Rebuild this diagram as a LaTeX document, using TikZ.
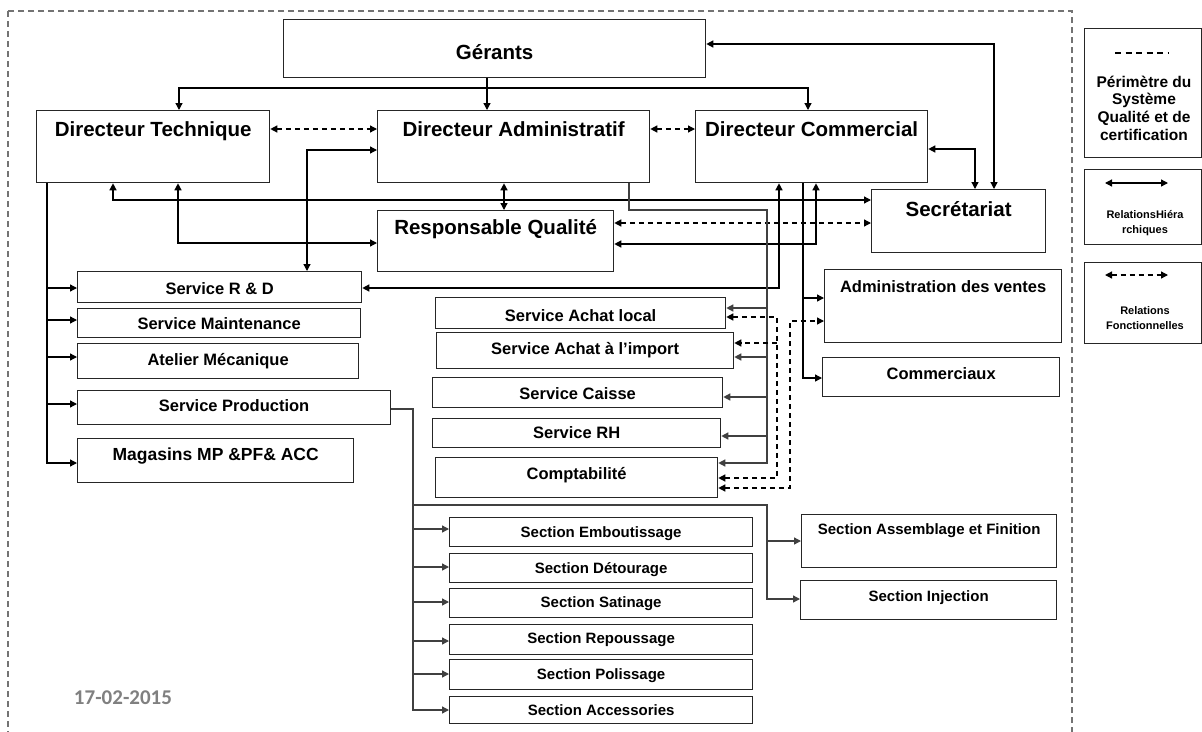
\documentclass[tikz,border=0pt]{standalone}
\usepackage{fontspec}
\setmainfont{Liberation Sans}
\newfontfamily\datefont{Carlito}
\usetikzlibrary{arrows.meta}
\begin{document}
\begin{tikzpicture}[x=1pt,y=-1pt,
  box/.style={draw=black!85, line width=1.3pt, inner sep=0pt, anchor=north west},
  hd/.style={font=\fontsize{20.5}{24}\selectfont\bfseries},
  sv/.style={font=\fontsize{16.5}{19}\selectfont\bfseries},
  sc/.style={font=\fontsize{15}{18}\selectfont\bfseries},
  ln/.style={line width=1.3pt, draw=black},
  gl/.style={line width=1.4pt, draw=black!75},
  tip/.style={},
  arr/.style={ln, -{Triangle[length=7pt,width=7pt]}},
  garr/.style={gl, -{Triangle[length=7pt,width=7pt]}},
  barr/.style={ln, {Triangle[length=7pt,width=7pt]}-{Triangle[length=7pt,width=7pt]}},
  darr/.style={barr, dash pattern=on 5pt off 4pt},
  dsarr/.style={arr, dash pattern=on 5pt off 4pt},
  frame/.style={draw=black!55, line width=1.3pt, dash pattern=on 6pt off 4pt},
  lgt/.style={align=center, font=\fontsize{15.5}{17.7}\selectfont\bfseries},
  lgs/.style={align=center, font=\fontsize{11}{15}\selectfont\bfseries}
]
\useasboundingbox (0,0) rectangle (1202,731);
\fill[white] (0,0) rectangle (1202,731);
\draw[frame] (8,11) rectangle (1072,745);

% main boxes
\node[box, hd, minimum width=422pt, text height=40.2pt, text depth=17.8pt] (ger) at (283,19) {Gérants};
\node[box, hd, minimum width=233pt, text height=26.2pt, text depth=45.8pt] (dt) at (36,110) {Directeur Technique};
\node[box, hd, minimum width=272pt, text height=26.2pt, text depth=45.8pt] (da) at (377,110) {Directeur Administratif};
\node[box, hd, minimum width=232pt, text height=26.2pt, text depth=45.8pt] (dc) at (695,110) {Directeur Commercial};
\node[box, hd, minimum width=236pt, text height=24.2pt, text depth=36.8pt] (rq) at (377,210) {Responsable Qualité};
\node[box, hd, minimum width=174pt, text height=27.2pt, text depth=35.8pt] (sec) at (871,189) {Secrétariat};

% technical services
\node[box, sv, minimum width=284pt, text height=22.9pt, text depth=8.1pt] (rd) at (77,271) {Service R \& D};
\node[box, sv, minimum width=283pt, text height=20.9pt, text depth=8.1pt] (mt) at (77,308) {Service Maintenance};
\node[box, sv, minimum width=281pt, text height=21.9pt, text depth=13.1pt] (at) at (77,343) {Atelier Mécanique};
\node[box, sv, minimum width=313pt, text height=20.9pt, text depth=13.1pt] (pr) at (77,390) {Service Production};
\node[box, font=\fontsize{17.5}{20}\selectfont\bfseries, minimum width=276pt, text height=22.3pt, text depth=21.7pt] (mg) at (77,438) {Magasins MP \&PF\& ACC};

% administrative services
\node[box, sv, minimum width=290pt, text height=23.9pt, text depth=7.1pt] (al) at (435,297) {Service Achat local};
\node[box, sv, minimum width=297pt, text height=21.9pt, text depth=14.1pt] (ai) at (436,332) {Service Achat à l’import};
\node[box, sv, minimum width=290pt, text height=21.9pt, text depth=8.1pt] (ca) at (432,377) {Service Caisse};
\node[box, sv, minimum width=288pt, text height=19.9pt, text depth=9.1pt] (rh) at (432,418) {Service RH};
\node[box, sv, minimum width=282pt, text height=21.9pt, text depth=18.1pt] (cp) at (435,457) {Comptabilité};

% commercial services
\node[box, sv, minimum width=237pt, text height=22.9pt, text depth=50.1pt] (adv) at (824,269) {Administration des ventes};
\node[box, sv, minimum width=237pt, text height=21.9pt, text depth=17.1pt] (com) at (822,357) {Commerciaux};

% sections
\node[box, sc, minimum width=303pt, text height=19.4pt, text depth=9.6pt] (s1) at (449,517) {Section Emboutissage};
\node[box, sc, minimum width=303pt, text height=19.4pt, text depth=9.6pt] (s2) at (449,553) {Section Détourage};
\node[box, sc, minimum width=303pt, text height=18.4pt, text depth=10.6pt] (s3) at (449,588) {Section Satinage};
\node[box, sc, minimum width=303pt, text height=18.4pt, text depth=11.6pt] (s4) at (449,624) {Section Repoussage};
\node[box, sc, minimum width=303pt, text height=19.4pt, text depth=10.6pt] (s5) at (449,659) {Section Polissage};
\node[box, sc, minimum width=303pt, text height=18.4pt, text depth=8.6pt] (s6) at (449,696) {Section Accessories};
\node[box, sc, minimum width=255pt, text height=19.4pt, text depth=33.6pt] (sa) at (801,514) {Section Assemblage et Finition};
\node[box, sc, minimum width=256pt, text height=20.4pt, text depth=18.6pt] (si) at (800,580) {Section Injection};

% legend
\node[box, minimum width=117pt, minimum height=129pt] (lg1) at (1084,28) {};
\node[box, minimum width=117pt, minimum height=75pt] (lg2) at (1084,169) {};
\node[box, minimum width=117pt, minimum height=81pt] (lg3) at (1084,262) {};
\node[lgt] (lt1) at (1144,108) {Périmètre du\\Système\\Qualité et de\\certification};
\node[lgs] (lt2) at (1145,223) {RelationsHiéra\\rchiques};
\node[lgs] (lt3) at (1145,318) {Relations\\Fonctionnelles};
\draw[line width=1.2pt, dash pattern=on 6pt off 4.5pt] (1115,53) -- (1168,53);
\draw[barr] (1105,183) -- (1168,183);
\draw[darr] (1105,275) -- (1168,275);

% date
\node[font=\datefont\fontsize{21}{24}\selectfont\bfseries, text=black!50] (date) at (123,698) {17-02-2015};

% Gérants -> directors
\draw[arr] (ger.south -| 487,0) -- (da.north -| 487,0);
\draw[arr] (ger.south -| 487,0) |- (179,88) -- (dt.north -| 179,0);
\draw[arr] (ger.south -| 487,0) |- (808,88) -- (dc.north -| 808,0);
% Secrétariat links
\draw[barr] (ger.east |- 0,44) -| (sec.north -| 994,0);
\draw[barr] (dc.east |- 0,149) -| (sec.north -| 975,0);
% functional links between directors
\draw[darr] (dt.east |- 0,129) -- (da.west |- 0,129);
\draw[darr] (da.east |- 0,129) -- (dc.west |- 0,129);
% hierarchy around quality
\draw[barr] (da.south -| 504,0) -- (rq.north -| 504,0);
\draw[barr] (dt.south -| 113,0) |- (sec.west |- 0,200);
\draw[barr] (dt.south -| 178,0) |- (rq.west |- 0,243);
\draw[barr] (da.west |- 0,150) -| (rd.north -| 307,0);
\draw[darr] (rq.east |- 0,223) -- (sec.west |- 0,223);
\draw[barr] (dc.south -| 816,0) |- (rq.east |- 0,244);
\draw[barr] (dc.south -| 779,0) |- (rd.east |- 0,288);

% technical trunk
\draw[arr] (dt.south -| 47,0) |- (rd.west |- 0,288);
\draw[arr] (dt.south -| 47,0) |- (mt.west |- 0,320);
\draw[arr] (dt.south -| 47,0) |- (at.west |- 0,357);
\draw[arr] (dt.south -| 47,0) |- (pr.west |- 0,404);
\draw[arr] (dt.south -| 47,0) |- (mg.west |- 0,463);

% production trunk
\draw[garr] (pr.east |- 0,409) -| (413,529) -- (s1.west |- 0,529);
\draw[garr] (pr.east |- 0,409) -| (413,567) -- (s2.west |- 0,567);
\draw[garr] (pr.east |- 0,409) -| (413,602) -- (s3.west |- 0,602);
\draw[garr] (pr.east |- 0,409) -| (413,641) -- (s4.west |- 0,641);
\draw[garr] (pr.east |- 0,409) -| (413,674) -- (s5.west |- 0,674);
\draw[garr] (pr.east |- 0,409) -| (413,710) -- (s6.west |- 0,710);
\draw[garr] (pr.east |- 0,409) -| (413,505) -| (767,541) -- (sa.west |- 0,541);
\draw[garr] (pr.east |- 0,409) -| (413,505) -| (767,599) -- (si.west |- 0,599);

% administrative trunk
\draw[garr] (da.south -| 629,0) |- (767,210) |- (al.east |- 0,308);
\draw[garr] (da.south -| 629,0) |- (767,210) |- (ai.east |- 0,357);
\draw[garr] (da.south -| 629,0) |- (767,210) |- (ca.east |- 0,397);
\draw[garr] (da.south -| 629,0) |- (767,210) |- (rh.east |- 0,436);
\draw[garr] (da.south -| 629,0) |- (767,210) |- (cp.east |- 0,463);

% functional dashed buses
\draw[darr] (al.east |- 0,317) -| (777,478) -- (cp.east |- 0,478);
\coordinate (bus1) at (777,343);
\draw[dsarr] (bus1) -- (ai.east |- bus1);
\draw[darr] (cp.east |- 0,488) -| (790,321) -- (adv.west |- 0,321);

% commercial trunk
\draw[arr] (dc.south -| 803,0) |- (adv.west |- 0,298);
\draw[arr] (dc.south -| 803,0) |- (com.west |- 0,378);
\end{tikzpicture}
\end{document}
